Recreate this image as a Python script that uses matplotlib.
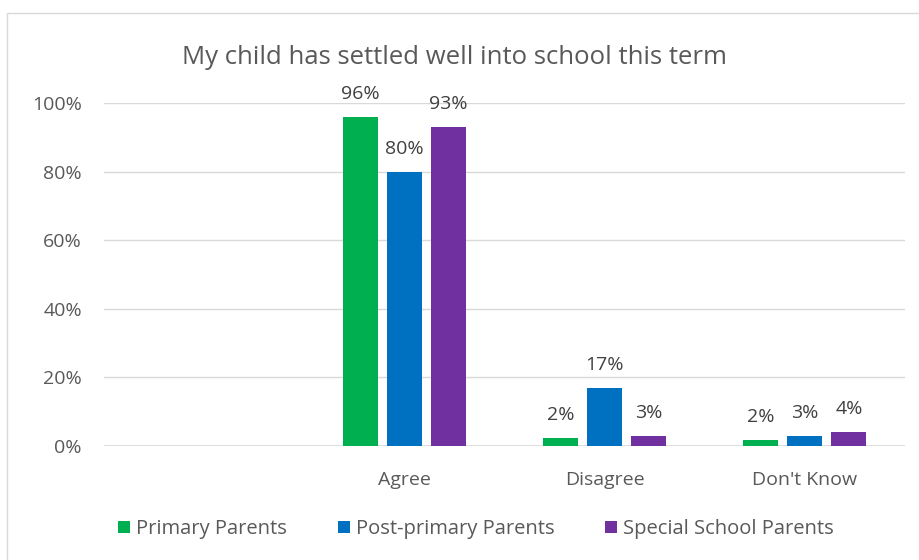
import matplotlib.pyplot as plt
import numpy as np
from matplotlib.patches import Rectangle

categories = ["", "Agree", "Disagree", "Don't Know"]
primary = [np.nan, 96, 2.4, 1.8]
post_primary = [np.nan, 80, 16.8, 3]
special = [np.nan, 93, 3, 4]
labels_primary = ["", "96%", "2%", "2%"]
labels_post = ["", "80%", "17%", "3%"]
labels_special = ["", "93%", "3%", "4%"]

series = [("Primary Parents", primary, labels_primary, "#00b050"),
          ("Post-primary Parents", post_primary, labels_post, "#0070c0"),
          ("Special School Parents", special, labels_special, "#7030a0")]

plt.rcParams['font.family'] = ['Open Sans', 'DejaVu Sans']
txt = "#595959"

fig = plt.figure(figsize=(9.2, 5.6), dpi=100)
W, H = 920, 560
ax = fig.add_axes([104 / W, 1 - 446 / H, 801 / W, (446 - 103) / H])

x = np.arange(len(categories))
w = 0.175
offs = [-0.22, 0, 0.22]
for (name, vals, labs, col), o in zip(series, offs):
    bars = ax.bar(x + o, vals, w, color=col, label=name, zorder=3)
    for xi, v, lab in zip(x, vals, labs):
        if lab:
            ax.annotate(lab, (xi + o, v), xytext=(0, 10), textcoords="offset points",
                        ha="center", va="bottom", fontsize=14, color="#404040")

ax.set_xlim(-0.5, 3.5)
ax.set_ylim(0, 100)
ax.set_yticks([0, 20, 40, 60, 80, 100])
ax.set_yticklabels(["0%", "20%", "40%", "60%", "80%", "100%"])
ax.set_xticks(x)
ax.set_xticklabels(categories)
ax.grid(axis="y", color="#d9d9d9", lw=1, zorder=0)
ax.tick_params(length=0, labelsize=14, colors=txt)
ax.tick_params(axis="x", pad=18)
ax.tick_params(axis="y", pad=16)
for s in ax.spines.values():
    s.set_visible(False)
ax.axhline(0, color="#d9d9d9", lw=1.2, zorder=2)

fig.text(455 / W, 1 - 57 / H, "My child has settled well into school this term",
         ha="center", va="center", fontsize=18.5, color=txt)

fig.legend(loc="center", bbox_to_anchor=(476 / W, 1 - 529 / H), ncol=3, frameon=False,
           fontsize=14.5, labelcolor=txt, handlelength=0.6, handleheight=0.6,
           handletextpad=0.3, columnspacing=2.5)

fig.patches.append(Rectangle((7 / W, -0.1), 1.2, 1 - 13 / H + 0.1, transform=fig.transFigure,
                             fill=False, ec="#d9d9d9", lw=1))

fig.savefig("out.png", dpi=100)
